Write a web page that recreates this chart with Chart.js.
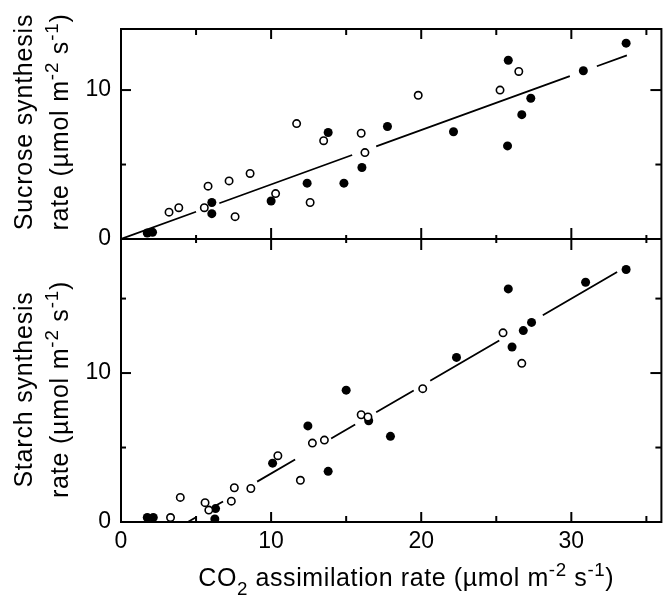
<!DOCTYPE html>
<html><head><meta charset="utf-8">
<script src="https://cdn.jsdelivr.net/npm/chart.js@4/dist/chart.umd.min.js"></script>
<style>html,body{margin:0;padding:0;background:#fff}</style>
</head><body>
<canvas id="c" width="667" height="597"></canvas>
<script>
// ---- data ----
const xTickLabels = [0, 10, 20, 30];
const yTickLabels = [0, 10];

const sucroseOpenX   = [3.2, 3.85, 5.55, 5.8, 7.2, 7.6, 8.6, 10.3, 11.7, 12.6, 13.5, 16.0, 16.25, 19.8, 25.25, 26.5];
const sucroseOpenY   = [1.8, 2.1, 2.1, 3.55, 3.9, 1.5, 4.4, 3.05, 7.75, 2.45, 6.6, 7.1, 5.8, 9.65, 10.0, 11.25];
const sucroseFilledX = [1.75, 2.1, 6.05, 6.05, 10.0, 12.4, 13.8, 14.85, 16.05, 17.75, 22.15, 25.75, 25.8, 26.7, 27.3, 30.8, 33.65];
const sucroseFilledY = [0.4, 0.45, 2.45, 1.7, 2.55, 3.75, 7.15, 3.75, 4.8, 7.55, 7.2, 6.25, 12.0, 8.35, 9.45, 11.3, 13.15];
const sucroseFitX    = [0, 5.0, 5.5, 6.55, 15.4, 16.2, 17.0, 29.9, 30.8, 31.7, 33.7];
const sucroseFitY    = [0, 1.83, null, 2.4, 5.64, null, 6.22, 10.94, null, 11.6, 12.33];

const starchOpenX    = [3.3, 3.95, 5.6, 5.85, 7.35, 7.55, 8.65, 10.45, 11.95, 12.75, 13.55, 16.0, 16.45, 20.1, 25.45, 26.7];
const starchOpenY    = [0.3, 1.65, 1.3, 0.8, 1.4, 2.3, 2.25, 4.45, 2.8, 5.3, 5.5, 7.2, 7.05, 8.95, 12.7, 10.65];
const starchFilledX  = [1.75, 2.15, 6.3, 6.25, 10.1, 12.45, 13.8, 15.0, 16.5, 17.95, 22.35, 25.8, 26.05, 26.8, 27.35, 30.95, 33.65];
const starchFilledY  = [0.3, 0.3, 0.9, 0.2, 3.95, 6.45, 3.4, 8.85, 6.8, 5.75, 11.05, 15.65, 11.75, 12.85, 13.4, 16.1, 16.95];
const starchFitX     = [4.45, 5.0, 5.6, 6.35, 6.8, 7.9, 9.07, 11.6, 12.8, 14.0, 15.6, 16.3, 17.0, 19.5, 20.1, 20.6, 25.2, 26.6, 28.1, 33.05];
const starchFitY     = [0, 0.32, null, 1.12, 1.38, null, 2.71, 4.2, null, 5.6, 6.55, null, 7.37, 8.83, null, 9.48, 12.18, null, 13.88, 16.79];

const FONT = "'Liberation Sans', Arial, Helvetica, sans-serif";
const pts = (xs, ys) => xs.map((x, i) => ({x: x, y: ys[i]}));

const openStyle   = {showLine:false, pointRadius:3.7, pointBackgroundColor:'#fff', pointBorderColor:'#000', pointBorderWidth:1.6, order:0};
const filledStyle = {showLine:false, pointRadius:4.5, pointBackgroundColor:'#000', pointBorderColor:'#000', pointBorderWidth:0, order:0};
const fitStyle    = {showLine:true, pointRadius:0, borderColor:'#000', borderWidth:1.8, spanGaps:false, order:5};

function tickCfg(pad) {
  return {
    stepSize: 5, includeBounds: false, autoSkip: false, maxRotation: 0,
    color: '#000', padding: pad, font: {family: FONT, size: 23},
    callback: v => (v % 10 === 0 ? String(v) : '')
  };
}

function richWidth(ctx, segs, size) {
  let w = 0;
  for (const s of segs) {
    ctx.font = ((s.sup || s.sub) ? size * 0.75 : size) + 'px ' + FONT;
    w += ctx.measureText(s.t).width;
  }
  return w;
}
function drawRich(ctx, segs, size, cx, by) {
  let x = cx - richWidth(ctx, segs, size) / 2;
  ctx.textAlign = 'left'; ctx.textBaseline = 'alphabetic';
  for (const s of segs) {
    const sz = (s.sup || s.sub) ? size * 0.75 : size;
    ctx.font = sz + 'px ' + FONT;
    const dy = s.sup ? -size * 0.42 : (s.sub ? size * 0.36 : 0);
    ctx.fillText(s.t, x, by + dy);
    x += ctx.measureText(s.t).width;
  }
}

const unitSegs = [{t:'rate (µmol m'}, {t:'-2', sup:true}, {t:' s'}, {t:'-1', sup:true}, {t:')'}];
const xTitleSegs = [{t:'CO'}, {t:'2', sub:true}, {t:' assimilation rate (µmol m'}, {t:'-2', sup:true}, {t:' s'}, {t:'-1', sup:true}, {t:')'}];

const framePlugin = {
  id: 'frame',
  afterDraw(chart) {
    const {ctx, chartArea: a, scales} = chart;
    const xs = scales.x, ys = scales.ySucrose, yb = scales.yStarch;
    ctx.save();
    ctx.strokeStyle = '#000'; ctx.lineWidth = 2; ctx.lineCap = 'butt';
    const seg = (x1, y1, x2, y2) => { ctx.beginPath(); ctx.moveTo(x1, y1); ctx.lineTo(x2, y2); ctx.stroke(); };
    ctx.strokeRect(a.left, a.top, a.right - a.left, a.bottom - a.top);
    const mid = ys.bottom;
    seg(a.left, mid, a.right, mid);
    xs.ticks.forEach(t => {
      const px = xs.getPixelForValue(t.value);
      if (px <= a.left + 1 || px >= a.right - 1) return;
      const major = t.value % 10 === 0;
      const L = major ? 10 : 6;
      seg(px, a.top, px, a.top + L);
      seg(px, mid - (major ? 11 : 4), px, mid + (major ? 11 : 4));
      seg(px, a.bottom - L, px, a.bottom);
    });
    [ys, yb].forEach(s => {
      s.ticks.forEach(t => {
        const py = s.getPixelForValue(t.value);
        if (py >= s.bottom - 1 || py <= s.top + 1) return;
        const major = t.value % 10 === 0;
        seg(a.left, py, a.left + (major ? 10 : 5), py);
        seg(a.right - (major ? 11 : 6), py, a.right, py);
      });
    });
    // axis titles
    ctx.fillStyle = '#000';
    ctx.letterSpacing = '0.6px';
    drawRich(ctx, xTitleSegs, 25, (a.left + a.right) / 2 + 15, chart.height - 11);
    ctx.letterSpacing = '0.8px';
    const yTitle = (s, l1, off) => {
      const cy = (s.top + s.bottom) / 2 + off;
      ctx.save(); ctx.translate(32, cy); ctx.rotate(-Math.PI / 2);
      drawRich(ctx, [{t:l1}], 25, 0, 0); ctx.restore();
      ctx.save(); ctx.translate(68, cy); ctx.rotate(-Math.PI / 2);
      drawRich(ctx, unitSegs, 25, 0, 0); ctx.restore();
    };
    yTitle(ys, 'Sucrose synthesis', -12);
    yTitle(yb, 'Starch synthesis', 9);
    ctx.restore();
  }
};

new Chart(document.getElementById('c'), {
  type: 'scatter',
  data: {
    datasets: [
      Object.assign({label:'Sucrose open',   data: pts(sucroseOpenX, sucroseOpenY),     yAxisID:'ySucrose'}, openStyle),
      Object.assign({label:'Sucrose filled', data: pts(sucroseFilledX, sucroseFilledY), yAxisID:'ySucrose'}, filledStyle),
      Object.assign({label:'Sucrose fit',    data: pts(sucroseFitX, sucroseFitY),       yAxisID:'ySucrose'}, fitStyle),
      Object.assign({label:'Starch open',    data: pts(starchOpenX, starchOpenY),       yAxisID:'yStarch'}, openStyle),
      Object.assign({label:'Starch filled',  data: pts(starchFilledX, starchFilledY),   yAxisID:'yStarch'}, filledStyle),
      Object.assign({label:'Starch fit',     data: pts(starchFitX, starchFitY),         yAxisID:'yStarch'}, fitStyle)
    ]
  },
  options: {
    responsive: false, animation: false, devicePixelRatio: 1, events: [],
    layout: {padding: {top: 29, right: 4, left: 0, bottom: 0}},
    plugins: {legend: {display: false}, tooltip: {enabled: false}},
    scales: {
      x: {
        type: 'linear', position: 'bottom', min: 0, max: 36,
        grid: {display: false, drawTicks: false}, border: {display: false},
        ticks: tickCfg(6),
        afterFit: s => { s.height = 75; }
      },
      ySucrose: {
        type: 'linear', position: 'left', stack: 'panels', stackWeight: 210, weight: 2,
        min: 0, max: 14.1,
        grid: {display: false, drawTicks: false}, border: {display: false},
        ticks: tickCfg(10),
        afterFit: s => { s.width = 121; }
      },
      yStarch: {
        type: 'linear', position: 'left', stack: 'panels', stackWeight: 283, weight: 1,
        min: 0, max: 19,
        grid: {display: false, drawTicks: false}, border: {display: false},
        ticks: tickCfg(10),
        afterFit: s => { s.width = 121; }
      }
    }
  },
  plugins: [framePlugin]
});
</script>
</body></html>
